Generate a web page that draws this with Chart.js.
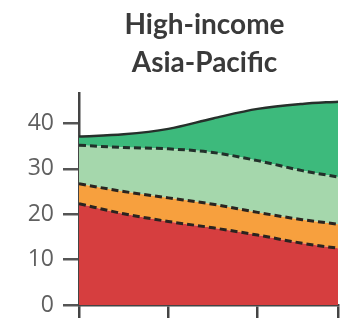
<!DOCTYPE html>
<html>
<head>
<meta charset="utf-8">
<script src="https://cdn.jsdelivr.net/npm/chart.js@4/dist/chart.umd.min.js"></script>
<style>
  html, body { margin: 0; padding: 0; background: #fff; }
  #wrap { width: 347px; height: 332px; }
</style>
</head>
<body>
<div id="wrap"><canvas id="c" width="347" height="332"></canvas></div>
<script>
// Panel title (two lines)
const titleLines = ['High-income', 'Asia-Pacific'];

// Years sampled along the x axis
const years = [1990, 1995, 2000, 2005, 2010, 2015, 2019];
const xTicks = [1990, 2000, 2010, 2019];
const yTicks = [0, 10, 20, 30, 40];

// Stacked components, bottom to top
const redValues        = [22.3, 20.1, 18.4, 17.0, 15.4, 13.6, 12.5];
const orangeValues     = [4.4, 4.9, 5.2, 5.2, 5.0, 5.2, 5.3];
const lightGreenValues = [8.5, 9.7, 10.8, 11.4, 11.4, 10.8, 10.4];
const greenValues      = [1.9, 2.9, 4.4, 7.5, 11.4, 14.7, 16.6];

const layers = [
  { values: redValues,        fill: '#d63e3f', line: '#2a2420', dash: [7, 4], width: 3 },
  { values: orangeValues,     fill: '#f7a03e', line: '#2a2420', dash: [7, 4], width: 3 },
  { values: lightGreenValues, fill: '#a5d7ac', line: '#22302a', dash: [7, 4], width: 3 },
  { values: greenValues,      fill: '#3dba7c', line: '#26302b', dash: [],     width: 2.5 }
];

const datasets = layers.map((l, i) => ({
  data: years.map((y, k) => ({ x: y, y: l.values[k] })),
  backgroundColor: l.fill,
  borderColor: l.line,
  borderWidth: l.width,
  borderDash: l.dash,
  fill: i === 0 ? 'origin' : '-1',
  pointRadius: 0,
  cubicInterpolationMode: 'monotone'
}));

const titlePlugin = {
  id: 'panelTitle',
  afterDraw(chart) {
    const { ctx, chartArea } = chart;
    const cx = (chartArea.left + chartArea.right) / 2 - 4;
    ctx.save();
    ctx.font = 'bold 28px Lato';
    ctx.fillStyle = '#3a3a3a';
    ctx.textAlign = 'center';
    ctx.textBaseline = 'alphabetic';
    ctx.fillText(titleLines[0], cx, 34);
    ctx.fillText(titleLines[1], cx, 72);
    ctx.restore();
  }
};

new Chart(document.getElementById('c'), {
  type: 'line',
  data: { datasets },
  plugins: [titlePlugin],
  options: {
    responsive: false,
    animation: false,
    layout: { padding: { top: 93, right: 9, bottom: 14, left: 0 } },
    plugins: { legend: { display: false }, tooltip: { enabled: false } },
    scales: {
      x: {
        type: 'linear',
        min: 1990,
        max: 2019,
        afterBuildTicks(scale) { scale.ticks = xTicks.map(v => ({ value: v })); },
        ticks: { display: false },
        grid: { drawOnChartArea: false, drawTicks: true, tickLength: 13, color: '#444', lineWidth: 2.5 },
        border: { display: true, color: '#444', width: 2.5 }
      },
      y: {
        stacked: true,
        min: 0,
        max: 46.7,
        afterBuildTicks(scale) { scale.ticks = yTicks.map(v => ({ value: v })); },
        afterFit(scale) { scale.width = 79; },
        ticks: {
          padding: 9,
          color: '#606060',
          font: { family: 'Open Sans', size: 23 }
        },
        grid: { drawOnChartArea: false, drawTicks: true, tickLength: 16, color: '#555', lineWidth: 2.5 },
        border: { display: true, color: '#444', width: 2.5 }
      }
    }
  }
});
</script>
</body>
</html>
